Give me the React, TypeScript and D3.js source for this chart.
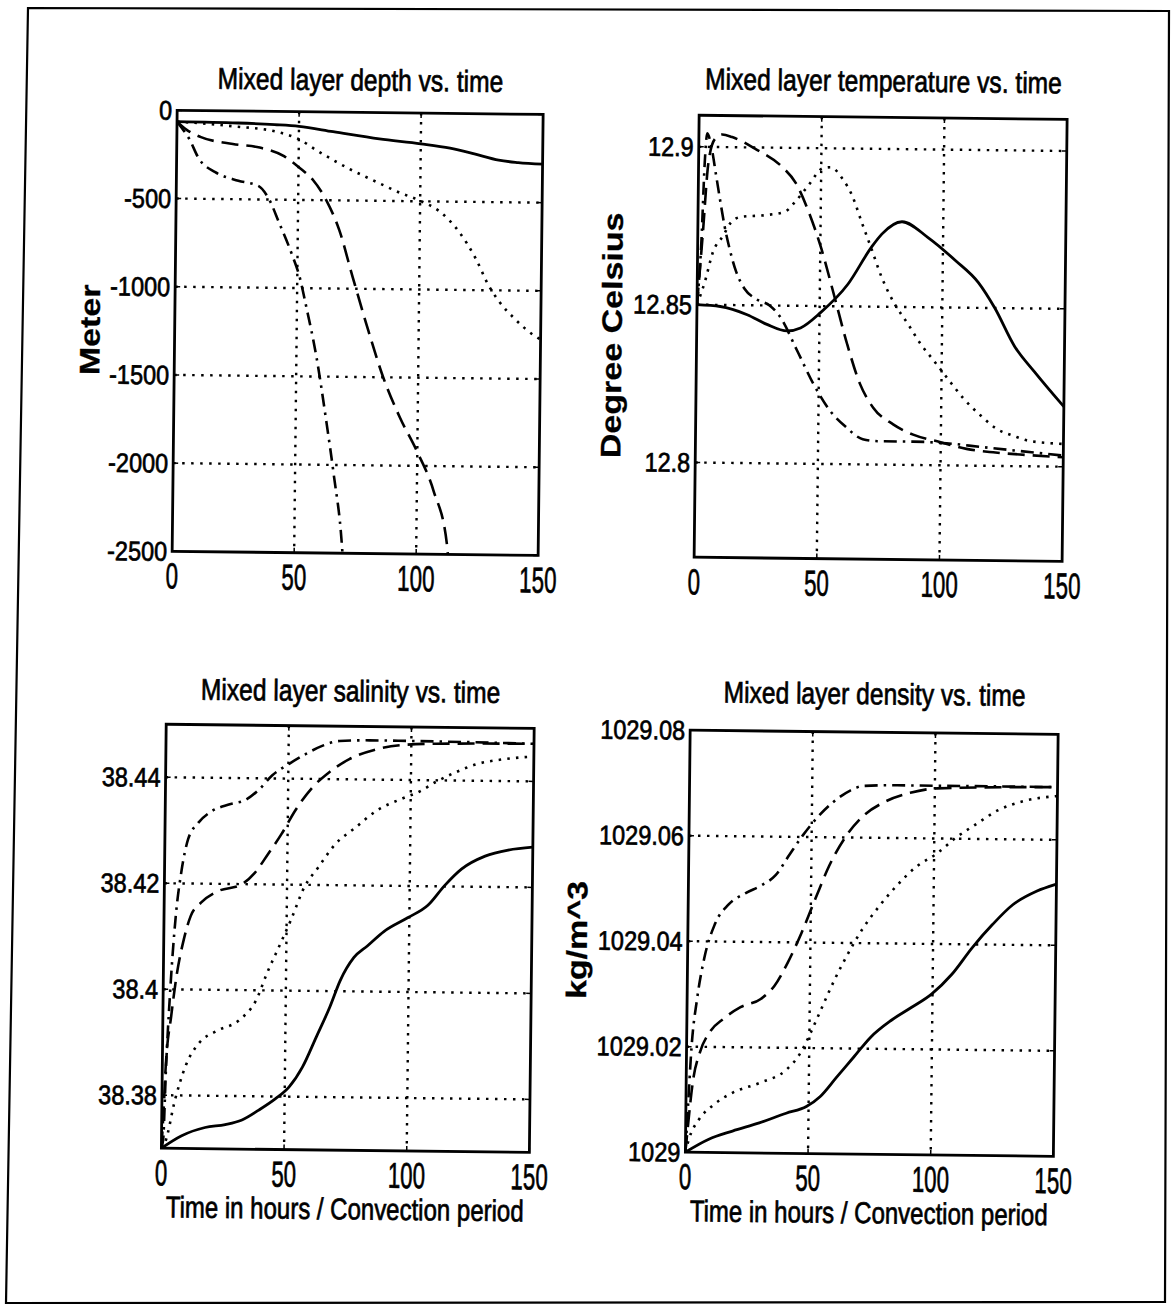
import React from 'react';
import * as d3 from 'd3';

type P = [number, number];

// ---------- tick values ----------
const timeTicks = [0, 50, 100, 150];
const depthTicks = [0, -500, -1000, -1500, -2000, -2500];
const tempTicks = [12.8, 12.85, 12.9];
const salTicks = [38.38, 38.4, 38.42, 38.44];
const densTicks = [1029, 1029.02, 1029.04, 1029.06, 1029.08];

// ---------- depth (m) ----------
const depthSolid: P[] = [[0,-64],[25,-68],[40,-75],[50,-83],[64,-111],[83,-149],[100,-174],[112,-197],[122,-228],[132,-262],[140,-274],[150,-282]];
const depthDotted: P[] = [[0,-64],[10,-72],[23.2,-87],[39.6,-111],[45,-130],[50.5,-159],[57,-215],[64.2,-272],[71,-322],[77.9,-367],[85,-412],[91.5,-452],[100.4,-499],[108,-556],[116,-669],[123,-820],[128.4,-971],[132.5,-1057],[139.3,-1160],[147.5,-1255],[150,-1275]];
const depthDashed: P[] = [[0,-64],[4,-110],[9.6,-149],[23,-187],[34,-206],[44,-253],[50.5,-319],[56,-386],[61.5,-499],[67,-669],[72.7,-934],[78.5,-1198],[85.7,-1501],[92.7,-1727],[99.8,-1916],[106.9,-2143],[112.6,-2446],[113,-2500]];
const depthDashDot: P[] = [[0,-64],[2,-100],[5,-159],[9.1,-272],[15.9,-348],[25.4,-395],[33.6,-423],[38.1,-499],[42.3,-631],[48,-820],[50.9,-934],[53.8,-1104],[58.2,-1387],[62.7,-1765],[65.8,-2049],[69.6,-2465],[69.8,-2500]];

// ---------- temperature (deg C) ----------
const tempSolid: P[] = [[0,12.85],[9.5,12.8495],[20.5,12.847],[28.6,12.844],[36.8,12.842],[42.3,12.843],[50.5,12.848],[61.4,12.857],[71,12.869],[75,12.873],[83.2,12.877],[94,12.872],[105,12.865],[114.6,12.858],[121.4,12.85],[129.6,12.838],[137.8,12.83],[150,12.819]];
const tempDotted: P[] = [[0,12.85],[3,12.857],[6.3,12.8668],[10.4,12.872],[13.1,12.8758],[17.2,12.8779],[28.6,12.8787],[35.5,12.8798],[39.6,12.883],[45,12.8883],[50.5,12.8936],[53.9,12.894],[58.7,12.8904],[62.8,12.885],[66.8,12.8766],[71,12.868],[75,12.8596],[80.5,12.851],[86,12.8447],[91.4,12.8383],[96.9,12.833],[102.3,12.8277],[109,12.8213],[116,12.816],[122.8,12.8117],[129.6,12.8096],[136.4,12.808],[150,12.8072]];
const tempDashed: P[] = [[0,12.85],[2,12.872],[4,12.895],[6.5,12.9025],[9.5,12.904],[13.6,12.9032],[23.2,12.8995],[34,12.894],[39.6,12.889],[45,12.88],[50.5,12.868],[56,12.853],[61.4,12.838],[66.8,12.8255],[72.3,12.818],[80.5,12.8128],[88.7,12.8096],[99.6,12.8074],[110.5,12.8053],[121.4,12.8043],[132.3,12.8037],[150,12.803]];
const tempDashDot: P[] = [[0,12.85],[1.5,12.87],[2.5,12.895],[3.4,12.9043],[5,12.9006],[7.2,12.891],[9.3,12.8816],[10.8,12.8753],[13,12.8679],[15.8,12.8606],[19.3,12.8552],[24.1,12.852],[29.6,12.85],[33.7,12.8467],[40.9,12.836],[47.7,12.8255],[54.6,12.817],[61.4,12.8117],[68.2,12.808],[75,12.8074],[88.7,12.8074],[102.3,12.807],[116,12.806],[129.6,12.805],[150,12.8035]];

// ---------- salinity ----------
const salSolid: P[] = [[0,38.37],[8.2,38.3724],[17.7,38.374],[25.9,38.3746],[32.7,38.3755],[39.5,38.3774],[46.3,38.3796],[51.7,38.3818],[57.1,38.3856],[62.6,38.3913],[68,38.397],[72.1,38.402],[77.6,38.4064],[83,38.4086],[89.8,38.4114],[99.3,38.414],[107.5,38.4164],[114.3,38.4202],[121,38.4233],[130.6,38.4258],[140,38.427],[150,38.4276]];
const salDotted: P[] = [[0,38.37],[1.4,38.371],[5.4,38.3793],[9.5,38.3856],[15,38.39],[21.8,38.3922],[31.3,38.3944],[38,38.3982],[42.2,38.4032],[47.6,38.4089],[51.7,38.4133],[57.1,38.4196],[62.6,38.4233],[69.4,38.4277],[77.6,38.4309],[85.7,38.434],[96.6,38.4365],[103.4,38.4378],[110.2,38.4397],[118.4,38.4416],[126.5,38.4431],[137.4,38.4441],[150,38.4447]];
const salDashed: P[] = [[0,38.37],[0.8,38.378],[1.4,38.3856],[3.4,38.395],[5.4,38.4026],[8.2,38.4095],[10.9,38.4139],[15,38.4164],[21.8,38.4186],[31.3,38.4199],[36.7,38.4221],[42.2,38.4258],[47.6,38.4296],[53,38.434],[59.9,38.4384],[66.7,38.4413],[74.8,38.4438],[85.7,38.4457],[96.6,38.4466],[110.2,38.4469],[150,38.4471]];
const salDashDot: P[] = [[0,38.37],[0.7,38.3717],[1.5,38.385],[2.7,38.3982],[4.8,38.4139],[6.8,38.422],[9.5,38.4284],[13.6,38.4315],[19,38.4337],[25.9,38.435],[32.7,38.4359],[38,38.4378],[43.5,38.4406],[50.3,38.4428],[57.1,38.4447],[63.9,38.4463],[70.7,38.4472],[83,38.4474],[150,38.4471]];

// ---------- density (kg/m^3) ----------
const densSolid: P[] = [[0,1029],[9.5,1029.0025],[19.1,1029.0041],[30,1029.0057],[40.9,1029.0076],[49.1,1029.0089],[54.6,1029.0108],[61.4,1029.0146],[68.2,1029.0184],[75,1029.0222],[83.2,1029.0254],[91.4,1029.0279],[99.6,1029.0305],[107.8,1029.0343],[116,1029.0394],[124.1,1029.0438],[132.3,1029.0476],[141.9,1029.0502],[150,1029.0516]];
const densDotted: P[] = [[0,1029],[1.4,1029.0025],[5.5,1029.0063],[10.9,1029.0089],[19.1,1029.0114],[30,1029.0133],[40.9,1029.0159],[46.4,1029.019],[50.5,1029.0229],[54.6,1029.0273],[60,1029.033],[65.5,1029.0381],[70.9,1029.0425],[77.8,1029.047],[84.6,1029.0508],[92.8,1029.0546],[101,1029.0571],[109.1,1029.0603],[117.3,1029.0629],[125.5,1029.0654],[136.4,1029.0673],[150,1029.0683]];
const densDashed: P[] = [[0,1029],[0.7,1029.0038],[2.7,1029.0133],[5.5,1029.019],[9.5,1029.0229],[15,1029.0254],[21.8,1029.0276],[30,1029.0292],[35.5,1029.0317],[40.9,1029.0362],[46.4,1029.0419],[51.8,1029.0483],[57.3,1029.0546],[64.1,1029.0603],[70.9,1029.0641],[79.1,1029.0667],[90,1029.0686],[101,1029.0695],[150,1029.07]];
const densDashDot: P[] = [[0,1029],[0.7,1029.007],[2,1029.0197],[4.1,1029.0292],[6.8,1029.0368],[10.9,1029.0432],[16.4,1029.047],[23.2,1029.0492],[30,1029.0508],[35.5,1029.0527],[40.9,1029.0565],[46.4,1029.0603],[51.8,1029.0635],[58.7,1029.0667],[65.5,1029.0689],[70.9,1029.0698],[84.6,1029.07],[150,1029.07]];

const titles = ['Mixed layer depth vs. time', 'Mixed layer temperature vs. time', 'Mixed layer salinity vs. time', 'Mixed layer density vs. time'];
const yLabels = ['Meter', 'Degree Celsius', '', 'kg/m^3'];
const xLabel = 'Time in hours / Convection period';

const FONT = "'Liberation Sans', Arial, Helvetica, sans-serif";

type Style = 'solid' | 'dotted' | 'dashed' | 'dashdot';
const dashOf: Record<Style, string | undefined> = {
  solid: undefined,
  dotted: '2.5 6.2',
  dashed: '17 8',
  dashdot: '13 6 2.5 6',
};

function Txt(props: { x: number; y: number; size: number; sx?: number; sy?: number; rot?: number; anchor?: string; weight?: string; children: React.ReactNode }) {
  const { x, y, size, sx = 1, sy = 1, rot = 0, anchor = 'middle', weight = 'normal', children } = props;
  return (
    <text transform={`translate(${x},${y}) rotate(${rot}) scale(${sx},${sy})`} fontSize={size} fontFamily={FONT} textAnchor={anchor} fontWeight={weight} fill="#000" stroke="#000" strokeWidth={weight === 'bold' ? 0.3 : 0.7}>
      {children}
    </text>
  );
}

type PanelCfg = {
  id: string;
  x0: number; y0: number; w: number; h: number;
  yDomain: [number, number];
  yTicks: number[];
  fmt: (v: number) => string;
  series: { data: P[]; style: Style }[];
  title: string; titleDy: number;
  ylabel: string; ylabelDx: number;
  showXLabel: boolean;
};

function Panel({ c }: { c: PanelCfg }) {
  const x = d3.scaleLinear().domain([0, 150]).range([c.x0, c.x0 + c.w]);
  const y = d3.scaleLinear().domain(c.yDomain).range([c.y0 + c.h, c.y0]);
  const line = d3.line<P>().x(d => x(d[0])).y(d => y(d[1])).curve(d3.curveMonotoneX);
  const x1 = c.x0 + c.w, y1 = c.y0 + c.h;
  const eps = 1e-9;
  const yGrid = c.yTicks.filter(v => v > c.yDomain[0] + eps && v < c.yDomain[1] - eps);
  const xGrid = timeTicks.filter(v => v > 0 && v < 150);
  const tl = 5;
  return (
    <g>
      <defs>
        <clipPath id={`clip-${c.id}`}>
          <rect x={c.x0} y={c.y0} width={c.w} height={c.h} />
        </clipPath>
      </defs>
      {xGrid.map(v => (
        <line key={'gx' + v} x1={x(v)} x2={x(v)} y1={c.y0} y2={y1} stroke="#000" strokeWidth={2.4} strokeDasharray="2.5 6.5" />
      ))}
      {yGrid.map(v => (
        <line key={'gy' + v} x1={c.x0} x2={x1} y1={y(v)} y2={y(v)} stroke="#000" strokeWidth={2.4} strokeDasharray="2.5 6.5" />
      ))}
      {timeTicks.map(v => (
        <g key={'tx' + v}>
          <line x1={x(v)} x2={x(v)} y1={y1} y2={y1 - tl} stroke="#000" strokeWidth={1.5} />
          <line x1={x(v)} x2={x(v)} y1={c.y0} y2={c.y0 + tl} stroke="#000" strokeWidth={1.5} />
        </g>
      ))}
      {c.yTicks.map(v => (
        <g key={'ty' + v}>
          <line x1={c.x0} x2={c.x0 + tl} y1={y(v)} y2={y(v)} stroke="#000" strokeWidth={1.5} />
          <line x1={x1} x2={x1 - tl} y1={y(v)} y2={y(v)} stroke="#000" strokeWidth={1.5} />
        </g>
      ))}
      <g clipPath={`url(#clip-${c.id})`}>
        {c.series.map((s, i) => (
          <path key={i} d={line(s.data) || ''} fill="none" stroke="#000" strokeWidth={s.style === 'solid' ? 2.8 : 2.6} strokeDasharray={dashOf[s.style]} strokeLinejoin="round" />
        ))}
      </g>
      <rect x={c.x0} y={c.y0} width={c.w} height={c.h} fill="none" stroke="#000" strokeWidth={2.8} />
      {c.yTicks.map(v => (
        <Txt key={'ly' + v} x={c.x0 - 5} y={y(v) + 9.5} size={27} sx={0.87} anchor="end">{c.fmt(v)}</Txt>
      ))}
      {timeTicks.map(v => (
        <Txt key={'lx' + v} x={x(v)} y={y1 + 37} size={36} sx={0.62}>{String(v)}</Txt>
      ))}
      <Txt x={c.x0 + c.w / 2} y={c.y0 - c.titleDy} size={30} sx={0.82}>{c.title}</Txt>
      {c.ylabel && (
        <Txt x={c.x0 - c.ylabelDx} y={c.y0 + c.h / 2} size={34} sy={0.83} rot={-90} weight="bold">{c.ylabel}</Txt>
      )}
      {c.showXLabel && (
        <Txt x={c.x0 + c.w / 2} y={y1 + 69} size={30} sx={0.8}>{xLabel}</Txt>
      )}
    </g>
  );
}

const fmtNum = (v: number) => String(+v.toFixed(4));

export default function App() {
  const panels: PanelCfg[] = [
    {
      id: 'depth', x0: 171, y0: 115, w: 366, h: 441,
      yDomain: [-2500, 0], yTicks: depthTicks, fmt: fmtNum,
      series: [
        { data: depthSolid, style: 'solid' },
        { data: depthDotted, style: 'dotted' },
        { data: depthDashed, style: 'dashed' },
        { data: depthDashDot, style: 'dashdot' },
      ],
      title: titles[0], titleDy: 22, ylabel: yLabels[0], ylabelDx: 75, showXLabel: false,
    },
    {
      id: 'temp', x0: 693, y0: 114, w: 368, h: 442,
      yDomain: [12.77, 12.91], yTicks: tempTicks, fmt: fmtNum,
      series: [
        { data: tempSolid, style: 'solid' },
        { data: tempDotted, style: 'dotted' },
        { data: tempDashed, style: 'dashed' },
        { data: tempDashDot, style: 'dashdot' },
      ],
      title: titles[1], titleDy: 26, ylabel: yLabels[1], ylabelDx: 75, showXLabel: false,
    },
    {
      id: 'sal', x0: 167, y0: 729, w: 368, h: 424,
      yDomain: [38.37, 38.45], yTicks: salTicks, fmt: fmtNum,
      series: [
        { data: salSolid, style: 'solid' },
        { data: salDotted, style: 'dotted' },
        { data: salDashed, style: 'dashed' },
        { data: salDashDot, style: 'dashdot' },
      ],
      title: titles[2], titleDy: 25, ylabel: yLabels[2], ylabelDx: 0, showXLabel: true,
    },
    {
      id: 'dens', x0: 691, y0: 729, w: 368, h: 422,
      yDomain: [1029, 1029.08], yTicks: densTicks, fmt: fmtNum,
      series: [
        { data: densSolid, style: 'solid' },
        { data: densDotted, style: 'dotted' },
        { data: densDashed, style: 'dashed' },
        { data: densDashDot, style: 'dashdot' },
      ],
      title: titles[3], titleDy: 28, ylabel: yLabels[3], ylabelDx: 101, showXLabel: true,
    },
  ];

  return (
    <svg width={1173} height={1313} viewBox="0 0 1173 1313" style={{ position: 'absolute', left: 0, top: 0, background: '#fff' }}>
      <rect x={0} y={0} width={1173} height={1313} fill="#fff" />
      <polygon points="28,8 1169,11 1165,1302 6,1303" fill="none" stroke="#000" strokeWidth={2.2} />
      <g transform="rotate(0.65 586 656)">
        {panels.map(p => <Panel key={p.id} c={p} />)}
      </g>
    </svg>
  );
}
